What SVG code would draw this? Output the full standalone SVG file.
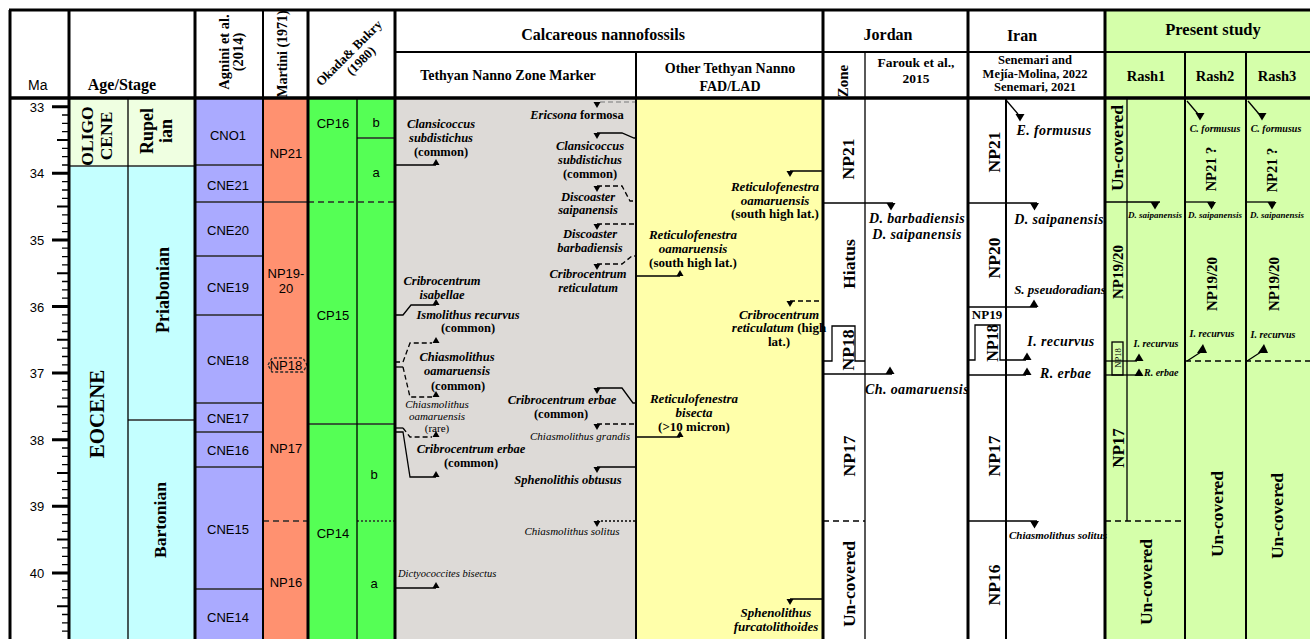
<svg xmlns="http://www.w3.org/2000/svg" width="1310" height="639" viewBox="0 0 1310 639">
<defs>
<style>
text{font-family:"Liberation Serif","Times New Roman",serif;fill:#000}
text.s,.s text{font-family:"Liberation Sans",Arial,sans-serif}
.b{font-weight:bold}
.i{font-style:italic}
.m{text-anchor:middle}
.ln{stroke:#000;fill:none;stroke-width:1.3}
.zl{stroke:#2a2a2a;fill:none;stroke-width:1.3}
.dh{stroke-dasharray:6 4}
.dt{stroke-dasharray:2 2}
.fr{stroke:#000;fill:none;stroke-width:3}
.f2{stroke:#000;fill:none;stroke-width:2}
.f1{stroke:#000;fill:none;stroke-width:1.3}
.z13{font-size:13px}
.g{font-size:12.5px}
.y{font-size:13px}
.jr{font-size:14px;letter-spacing:0.4px}
.rs{font-size:10px}
.nl{font-size:17.5px;font-weight:bold}
</style>
<path id="tu" d="M-3.5,0H3.5L0,-6Z"/>
<path id="td" d="M-3.5,0H3.5L0,6Z"/>
<path id="tuL" d="M-4.5,0H4.5L0,-7.5Z"/>
<path id="tdL" d="M-4.5,0H4.5L0,7.5Z"/>
</defs>
<rect x="0" y="0" width="1310" height="639" fill="#fff"/>

<g id="fills">
<rect x="69" y="98" width="126" height="68" fill="#EFFFE1"/>
<rect x="69" y="166" width="126" height="473" fill="#C4FFFF"/>
<rect x="195" y="98" width="68" height="541" fill="#AAAAFF"/>
<rect x="263" y="98" width="45" height="541" fill="#FF9170"/>
<rect x="308" y="98" width="87" height="541" fill="#55FF55"/>
<rect x="395" y="98" width="241" height="541" fill="#DDDAD7"/>
<rect x="636" y="98" width="187" height="541" fill="#FFFFAA"/>
<rect x="1105" y="10" width="205" height="629" fill="#D5FFAA"/>
</g>

<g id="header">
<text x="28" y="90" class="s" font-size="14">Ma</text>
<text x="122" y="90" class="b m" font-size="16">Age/Stage</text>
<text transform="translate(228,52) rotate(-90)" class="b m" font-size="14.5"><tspan x="0" y="1">Agnini et al.</tspan><tspan x="0" y="15">(2014)</tspan></text>
<text transform="translate(287,54) rotate(-90)" class="b m" font-size="14">Martini (1971)</text>
<text transform="translate(352,56) rotate(-45)" class="b m" font-size="13"><tspan x="0" y="0">Okada&amp; Bukry</tspan><tspan x="3" y="14">(1980)</tspan></text>
<text x="603" y="40" class="b m" font-size="16">Calcareous nannofossils</text>
<text x="508" y="80" class="b m" font-size="14">Tethyan Nanno Zone Marker</text>
<text x="730" y="73" class="b m" font-size="14">Other Tethyan Nanno</text>
<text x="730" y="91" class="b m" font-size="14">FAD/LAD</text>
<text x="888" y="40" class="b m" font-size="16">Jordan</text>
<text x="1022" y="41" class="b m" font-size="16">Iran</text>
<text x="1213" y="35" class="b m" font-size="16.5">Present study</text>
<text transform="translate(848,81) rotate(-90)" class="b m" font-size="15">Zone</text>
<text x="916" y="67" class="b m" font-size="13.5">Farouk et al.,</text>
<text x="916" y="83" class="b m" font-size="13.5">2015</text>
<text x="1035" y="64" class="b m" font-size="12.5">Senemari and</text>
<text x="1035" y="78" class="b m" font-size="12.5">Mejía-Molina, 2022</text>
<text x="1035" y="91" class="b m" font-size="12.5">Senemari, 2021</text>
<text x="1146" y="81" class="b m" font-size="14.5">Rash1</text>
<text x="1215" y="81" class="b m" font-size="14.5">Rash2</text>
<text x="1277" y="81" class="b m" font-size="14.5">Rash3</text>
</g>

<g id="col-ma">
<path class="f1" d="M62,115h6M62,123.4h6M62,131.7h6M62,148.3h6M62,156.7h6M62,165h6M62,181.6h6M62,190h6M62,198.3h6M62,214.9h6M62,223.3h6M62,231.6h6M62,248.2h6M62,256.6h6M62,264.9h6M62,281.5h6M62,289.9h6M62,298.2h6M62,314.8h6M62,323.2h6M62,331.5h6M62,348.1h6M62,356.5h6M62,364.8h6M62,381.4h6M62,389.8h6M62,398.1h6M62,414.7h6M62,423.1h6M62,431.4h6M62,448h6M62,456.4h6M62,464.7h6M62,481.3h6M62,489.7h6M62,498h6M62,514.6h6M62,523h6M62,531.3h6M62,547.9h6M62,556.3h6M62,564.6h6M62,581.2h6M62,589.6h6M62,597.9h6M62,614.5h6M62,622.9h6M62,631.2h6"/>
<path class="f2" d="M57,140h11M57,206.6h11M57,273.2h11M57,339.8h11M57,406.4h11M57,473h11M57,539.6h11M57,606.2h11"/>
<path class="fr" d="M52,106.7h16M52,173.3h16M52,239.9h16M52,306.5h16M52,373.1h16M52,439.7h16M52,506.3h16M52,572.9h16"/>
<g class="s" font-size="13" text-anchor="middle">
<text x="37" y="111.5">33</text><text x="37" y="178">34</text><text x="37" y="245">35</text><text x="37" y="311.5">36</text>
<text x="37" y="378">37</text><text x="37" y="445">38</text><text x="37" y="511">39</text><text x="37" y="578">40</text>
</g>
</g>

<g id="col-age">
<path class="zl" d="M69,166H195M128,420H195"/>
<text transform="translate(98,136) rotate(-90)" class="b m" font-size="17.5"><tspan x="0" y="-5">OLIGO</tspan><tspan x="0" y="14">CENE</tspan></text>
<text transform="translate(104,414) rotate(-90)" class="b m" font-size="21">EOCENE</text>
<text transform="translate(160,131) rotate(-90)" class="b m" font-size="18"><tspan x="0" y="-7">Rupel</tspan><tspan x="0" y="12">ian</tspan></text>
<text transform="translate(169,290) rotate(-90)" class="b m" font-size="18">Priabonian</text>
<text transform="translate(166,520) rotate(-90)" class="b m" font-size="17.5">Bartonian</text>
</g>

<g id="col-agnini">
<path class="zl" d="M195,165H262M195,202H262M195,256H262M195,315H262M195,403H262M195,432H262M195,467H262M195,589H262"/>
<g class="s" font-size="13" text-anchor="middle">
<text x="228" y="140">CNO1</text><text x="228" y="190">CNE21</text><text x="228" y="235">CNE20</text>
<text x="228" y="292">CNE19</text><text x="228" y="365">CNE18</text><text x="228" y="423">CNE17</text>
<text x="228" y="455">CNE16</text><text x="228" y="534">CNE15</text><text x="228" y="622">CNE14</text>
</g>
</g>

<g id="col-martini">
<path class="zl" d="M263,202H308"/>
<path class="zl dh" d="M263,521H308"/>
<path class="zl" stroke-dasharray="3 2" d="M268,365L272,358H303L307,365L303,372H272Z"/>
<g class="s" font-size="13" text-anchor="middle">
<text x="286" y="158">NP21</text><text x="286" y="278">NP19-</text><text x="286" y="293">20</text>
<text x="286" y="370">NP18</text><text x="286" y="453">NP17</text><text x="286" y="587">NP16</text>
</g>
</g>

<g id="col-okada">
<path class="zl dh" d="M308,202H395"/>
<path class="zl" d="M357,138H395M308,424H395"/>
<path class="zl dt" d="M357,521H395"/>
<g class="s" font-size="13" text-anchor="middle">
<text x="333" y="128">CP16</text><text x="376" y="127">b</text><text x="376" y="177">a</text>
<text x="333" y="320">CP15</text><text x="333" y="538">CP14</text><text x="374" y="479">b</text><text x="374" y="588">a</text>
</g>
</g>

<g id="col-tethyan">
<text x="577" y="119" class="b g m"><tspan class="i">Ericsona</tspan> formosa</text>
<text x="441" y="128" class="b i g m">Clansicoccus</text>
<text x="441" y="142" class="b i g m">subdistichus</text>
<text x="441" y="156" class="b g m">(common)</text>
<text x="590" y="150" class="b i g m">Clansicoccus</text>
<text x="590" y="164" class="b i g m">subdistichus</text>
<text x="590" y="178" class="b g m">(common)</text>
<text x="588" y="201" class="b i g m">Discoaster</text>
<text x="588" y="214" class="b i g m">saipanensis</text>
<text x="590" y="238" class="b i g m">Discoaster</text>
<text x="590" y="252" class="b i g m">barbadiensis</text>
<text x="588" y="278" class="b i g m">Cribrocentrum</text>
<text x="588" y="292" class="b i g m">reticulatum</text>
<text x="442" y="285" class="b i g m">Cribrocentrum</text>
<text x="442" y="299" class="b i g m">isabellae</text>
<text x="468" y="318.5" class="b i g m">Ismolithus recurvus</text>
<text x="468" y="332" class="b g m">(common)</text>
<text x="457" y="361" class="b i g m">Chiasmolithus</text>
<text x="457" y="375" class="b i g m">oamaruensis</text>
<text x="458" y="390" class="b g m">(common)</text>
<text x="437" y="408" class="i m" font-size="11">Chiasmolithus</text>
<text x="437" y="420" class="i m" font-size="11">oamaruensis</text>
<text x="437" y="432" class="m" font-size="11">(rare)</text>
<text x="471" y="453" class="b i g m">Cribrocentrum erbae</text>
<text x="471" y="467" class="b g m">(common)</text>
<text x="562" y="404" class="b i g m">Cribrocentrum erbae</text>
<text x="561" y="418" class="b g m">(common)</text>
<text x="580" y="440" class="i m" font-size="11">Chiasmolithus grandis</text>
<text x="568" y="484" class="b i g m">Sphenolithis obtusus</text>
<text x="572" y="535" class="i m" font-size="11">Chiasmolithus solitus</text>
<text x="398" y="577" class="i" font-size="10.5">Dictyococcites bisectus</text>
</g>

<g id="col-other">
<text x="775" y="191" class="b i y m">Reticulofenestra</text>
<text x="775" y="205" class="b i y m">oamaruensis</text>
<text x="775" y="218" class="b y m">(south high lat.)</text>
<text x="693" y="239" class="b i y m">Reticulofenestra</text>
<text x="693" y="253" class="b i y m">oamaruensis</text>
<text x="693" y="267" class="b y m">(south high lat.)</text>
<text x="779" y="319" class="b i y m">Cribrocentrum</text>
<text x="779" y="332" class="b y m"><tspan class="i">reticulatum</tspan> (high</text>
<text x="779" y="346" class="b y m">lat.)</text>
<text x="694" y="403" class="b i y m">Reticulofenestra</text>
<text x="694" y="417" class="b i y m">bisecta</text>
<text x="694" y="431" class="b y m">(&gt;10 micron)</text>
<text x="776" y="617" class="b i y m">Sphenolithus</text>
<text x="776" y="631" class="b i y m">furcatolithoides</text>
</g>

<g id="col-jordan">
<text transform="translate(854,159) rotate(-90)" class="nl m">NP21</text>
<text transform="translate(855,264) rotate(-90)" class="nl m">Hiatus</text>
<text transform="translate(854,350) rotate(-90)" class="nl m">NP18</text>
<text transform="translate(855,456) rotate(-90)" class="nl m">NP17</text>
<text transform="translate(855,584) rotate(-90)" class="nl m">Un-covered</text>
<text x="917" y="223" class="b i jr m">D. barbadiensis</text>
<text x="917" y="239" class="b i jr m">D. saipanensis</text>
<text x="917" y="394" class="b i jr m">Ch. oamaruensis</text>
</g>

<g id="col-iran">
<text transform="translate(1000,152) rotate(-90)" class="nl m">NP21</text>
<text transform="translate(1000,258) rotate(-90)" class="nl m">NP20</text>
<text x="987" y="319" class="b m" font-size="13">NP19</text>
<text transform="translate(998,343) rotate(-90)" class="b m" font-size="16">NP18</text>
<text transform="translate(1000,456) rotate(-90)" class="nl m">NP17</text>
<text transform="translate(1000,585) rotate(-90)" class="nl m">NP16</text>
<text x="1054" y="135" class="b i jr m">E. formusus</text>
<text x="1059" y="224" class="b i jr m">D. saipanensis</text>
<text x="1060" y="294" class="b i m" font-size="13">S. pseudoradians</text>
<text x="1061" y="346" class="b i jr m">I. recurvus</text>
<text x="1040" y="378" class="b i jr">R. erbae</text>
<text x="1058" y="539" class="b i m" font-size="11">Chiasmolithus solitus</text>
</g>

<g id="col-rash1">
<text transform="translate(1123,148) rotate(-90)" class="nl m">Un-covered</text>
<text transform="translate(1123,272) rotate(-90)" class="b m" font-size="15">NP19/20</text>
<rect x="1112" y="342" width="11" height="33" class="f1"/>
<text transform="translate(1121,358) rotate(-90)" class="m" font-size="8.5">NP18</text>
<text transform="translate(1124,448) rotate(-90)" class="b m" font-size="17">NP17</text>
<text transform="translate(1152,582) rotate(-90)" class="nl m">Un-covered</text>
<text x="1155" y="218" class="b i m" font-size="9">D. saipanensis</text>
<text x="1156" y="347" class="b i rs m">I. recurvus</text>
<text x="1144" y="376" class="b i rs">R. erbae</text>
</g>

<g id="col-rash2">
<text x="1215" y="132" class="b i rs m">C. formusus</text>
<text transform="translate(1216,169) rotate(-90)" class="b m" font-size="14.5">NP21 ?</text>
<text x="1215" y="218" class="b i m" font-size="9">D. saipanensis</text>
<text transform="translate(1217,284) rotate(-90)" class="b m" font-size="15">NP19/20</text>
<text x="1212" y="337" class="b i rs m">I. recurvus</text>
<text transform="translate(1223,514) rotate(-90)" class="nl m">Un-covered</text>
</g>

<g id="col-rash3">
<text x="1276" y="132" class="b i rs m">C. formusus</text>
<text transform="translate(1277,170) rotate(-90)" class="b m" font-size="14.5">NP21 ?</text>
<text x="1277" y="218" class="b i m" font-size="9">D. saipanensis</text>
<text transform="translate(1279,284) rotate(-90)" class="b m" font-size="15">NP19/20</text>
<text x="1273" y="338" class="b i rs m">I. recurvus</text>
<text transform="translate(1283,516) rotate(-90)" class="nl m">Un-covered</text>
</g>

<g id="connectors">
<path class="ln" d="M395,165H436"/><use href="#tu" x="436" y="165"/>
<path class="ln" d="M395,315H403L411,305H436"/><use href="#tu" x="436" y="305"/>
<path class="ln" stroke-dasharray="5 3" d="M395,362H403L410,343H432"/><use href="#tu" x="436" y="343"/>
<path class="ln" d="M395,367H403"/>
<path class="ln" stroke-dasharray="5 3" d="M403,367L410,397H432"/><use href="#tu" x="436" y="397"/>
<path class="ln" d="M395,428H403"/>
<path class="ln" stroke-dasharray="5 3" d="M403,428L410,437H432"/><use href="#tu" x="436" y="437"/>
<path class="ln" d="M395,432H403L410,477H436"/><use href="#tu" x="436" y="477"/>
<path class="ln" d="M395,588H436"/><use href="#tu" x="436" y="588"/>
<path stroke="#999" stroke-width="1.5" fill="none" stroke-dasharray="5 3" d="M600,102H636"/><use href="#td" x="597" y="102"/>
<path class="ln" d="M597,133H622L634,138H636"/><use href="#td" x="597" y="133"/>
<path class="ln" stroke-dasharray="5 3" d="M597,186H622L630,201H636"/><use href="#td" x="597" y="186"/>
<path class="ln" stroke-dasharray="5 3" d="M597,224H636"/><use href="#td" x="597" y="224"/>
<path class="ln" stroke-dasharray="5 3" d="M597,264H622L632,256H636"/><use href="#td" x="597" y="264"/>
<path class="ln" d="M597,388H622L633,403H636"/><use href="#td" x="597" y="388"/>
<path class="ln" stroke-dasharray="5 3" d="M597,424H636"/><use href="#td" x="597" y="424"/>
<path class="ln" d="M597,467H636"/><use href="#td" x="597" y="467"/>
<path class="ln dt" d="M597,521H636"/><use href="#td" x="597" y="521"/>
<path class="ln" d="M790,171H823"/><use href="#td" x="790" y="171"/>
<path class="ln" d="M637,276H680"/><use href="#tu" x="680" y="276"/>
<path class="ln" stroke-dasharray="5 3" d="M790,301H823"/><use href="#td" x="790" y="301"/>
<path class="ln" d="M637,437H680"/><use href="#tu" x="680" y="437"/>
<path class="ln" d="M790,599H823"/><use href="#td" x="790" y="599"/>
<path class="ln" d="M823,203H893"/><use href="#tdL" x="891" y="203"/>
<path class="ln" d="M823,361H832V326H855V361H865"/>
<path class="ln" d="M823,374H892"/><use href="#tuL" x="890" y="374"/>
<path class="ln dh" d="M823,521H865"/>
<path class="ln" d="M1006,100L1018,114"/><use href="#tdL" x="1020" y="114"/>
<path class="ln" d="M968,203H1037"/><use href="#tdL" x="1034.5" y="203"/>
<path class="ln" d="M968,307H1037"/><use href="#tuL" x="1034" y="307"/>
<path class="ln" d="M968,360H975V325H1000V360H1026"/><use href="#tuL" x="1027" y="360"/>
<path class="ln" d="M968,375H1026"/><use href="#tuL" x="1027" y="375"/>
<path class="ln" d="M968,521H1037"/><use href="#tdL" x="1034.5" y="521"/>
<path class="ln" d="M1105,202H1160"/><use href="#tdL" x="1155" y="202"/>
<path class="ln" d="M1105,361H1137"/><use href="#tuL" x="1139" y="361"/>
<path class="ln" d="M1105,375H1136"/><use href="#tuL" x="1139" y="376"/>
<path class="ln dh" d="M1105,521H1185"/>
<path class="ln" d="M1187,101L1198,114"/><use href="#tdL" x="1200" y="113"/>
<path class="ln" d="M1248,101L1259,114"/><use href="#tdL" x="1262" y="113"/>
<path class="ln" d="M1185,202H1214"/><use href="#tdL" x="1211.5" y="202"/>
<path class="ln" d="M1246,202H1275"/><use href="#tdL" x="1272" y="202"/>
<path class="ln" d="M1187,361L1201,352"/><path d="M1197,353H1207L1203,344Z"/>
<path class="ln" d="M1247,361L1261,352"/><path d="M1258,353H1268L1264,344Z"/>
<path class="ln dh" d="M1185,361H1310"/>
</g>

<g id="frame">
<path class="fr" d="M9,10H1310"/>
<path stroke="#000" stroke-width="3.5" fill="none" d="M9,98H1310"/>
<path class="f2" d="M395,52H1310"/>
<path class="fr" d="M10,10V639M69,10V639M195,10V639M308,10V639M395,10V639M823,10V639M968,10V639M1105,10V639"/>
<path class="f2" d="M263,10V639M636,52V639M1006,98V639M1185,52V639M1246,52V639"/>
<path class="f1" d="M128,98V639M357,98V639M865,52V639M1127,98V521"/>
</g>
</svg>
